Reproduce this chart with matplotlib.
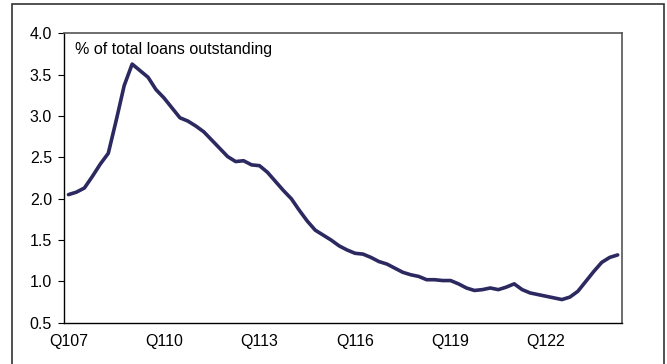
import matplotlib
matplotlib.use("Agg")
import matplotlib.pyplot as plt
from matplotlib.patches import Rectangle

plt.rcParams['font.family'] = ['Liberation Sans', 'DejaVu Sans']

# quarterly values, Q1 2007 .. Q2 2024
quarters = ["Q%d%02d" % (q, y) for y in range(7, 25) for q in range(1, 5)][:70]
values = [2.05, 2.08, 2.13, 2.27, 2.42, 2.55, 2.95, 3.37, 3.63, 3.55,
          3.47, 3.32, 3.22, 3.10, 2.98, 2.94, 2.88, 2.81, 2.71, 2.61,
          2.51, 2.45, 2.46, 2.41, 2.40, 2.32, 2.21, 2.10, 2.00, 1.86,
          1.73, 1.62, 1.56, 1.50, 1.43, 1.38, 1.34, 1.33, 1.29, 1.24,
          1.21, 1.16, 1.11, 1.08, 1.06, 1.02, 1.02, 1.01, 1.01, 0.97,
          0.92, 0.89, 0.90, 0.92, 0.90, 0.93, 0.97, 0.90, 0.86, 0.84,
          0.82, 0.80, 0.78, 0.81, 0.88, 1.00, 1.12, 1.23, 1.29, 1.32]
yticks = [0.5, 1.0, 1.5, 2.0, 2.5, 3.0, 3.5, 4.0]
label = "% of total loans outstanding"

fig = plt.figure(figsize=(6.67, 3.64), dpi=100)
ax = fig.add_axes([0.0967, 0.1135, 0.8353, 0.7945])

x = [i + 0.5 for i in range(len(values))]
ax.plot(x, values, color="#2c2960", linewidth=2.6, solid_capstyle="round")

ax.set_xlim(0, len(values))
ax.set_ylim(0.5, 4.0)
ax.set_yticks(yticks)
ax.set_yticklabels(["%.1f" % v for v in yticks])
ax.set_xticks([i + 0.5 for i in range(0, len(values), 12)])
ax.set_xticklabels(quarters[::12])
ax.tick_params(axis="y", direction="out", length=4, width=0.8, pad=5, labelsize=11.5)
ax.tick_params(axis="x", length=0, pad=8, labelsize=11.5)

for s in ["left", "bottom"]:
    ax.spines[s].set_color("black")
    ax.spines[s].set_linewidth(1.0)
for s in ["top", "right"]:
    ax.spines[s].set_color("#555555")
    ax.spines[s].set_linewidth(1.2)

ax.text(0.019, 0.943, label, transform=ax.transAxes, fontsize=11.5,
        ha="left", va="center")

# outer frame
fig.patches.append(Rectangle((11.5 / 667, -0.01), (664 - 11.5) / 667, 1.01 - 4 / 364,
                             transform=fig.transFigure, fill=False,
                             edgecolor="#333333", linewidth=1.2))

fig.savefig("out.png", dpi=100)
